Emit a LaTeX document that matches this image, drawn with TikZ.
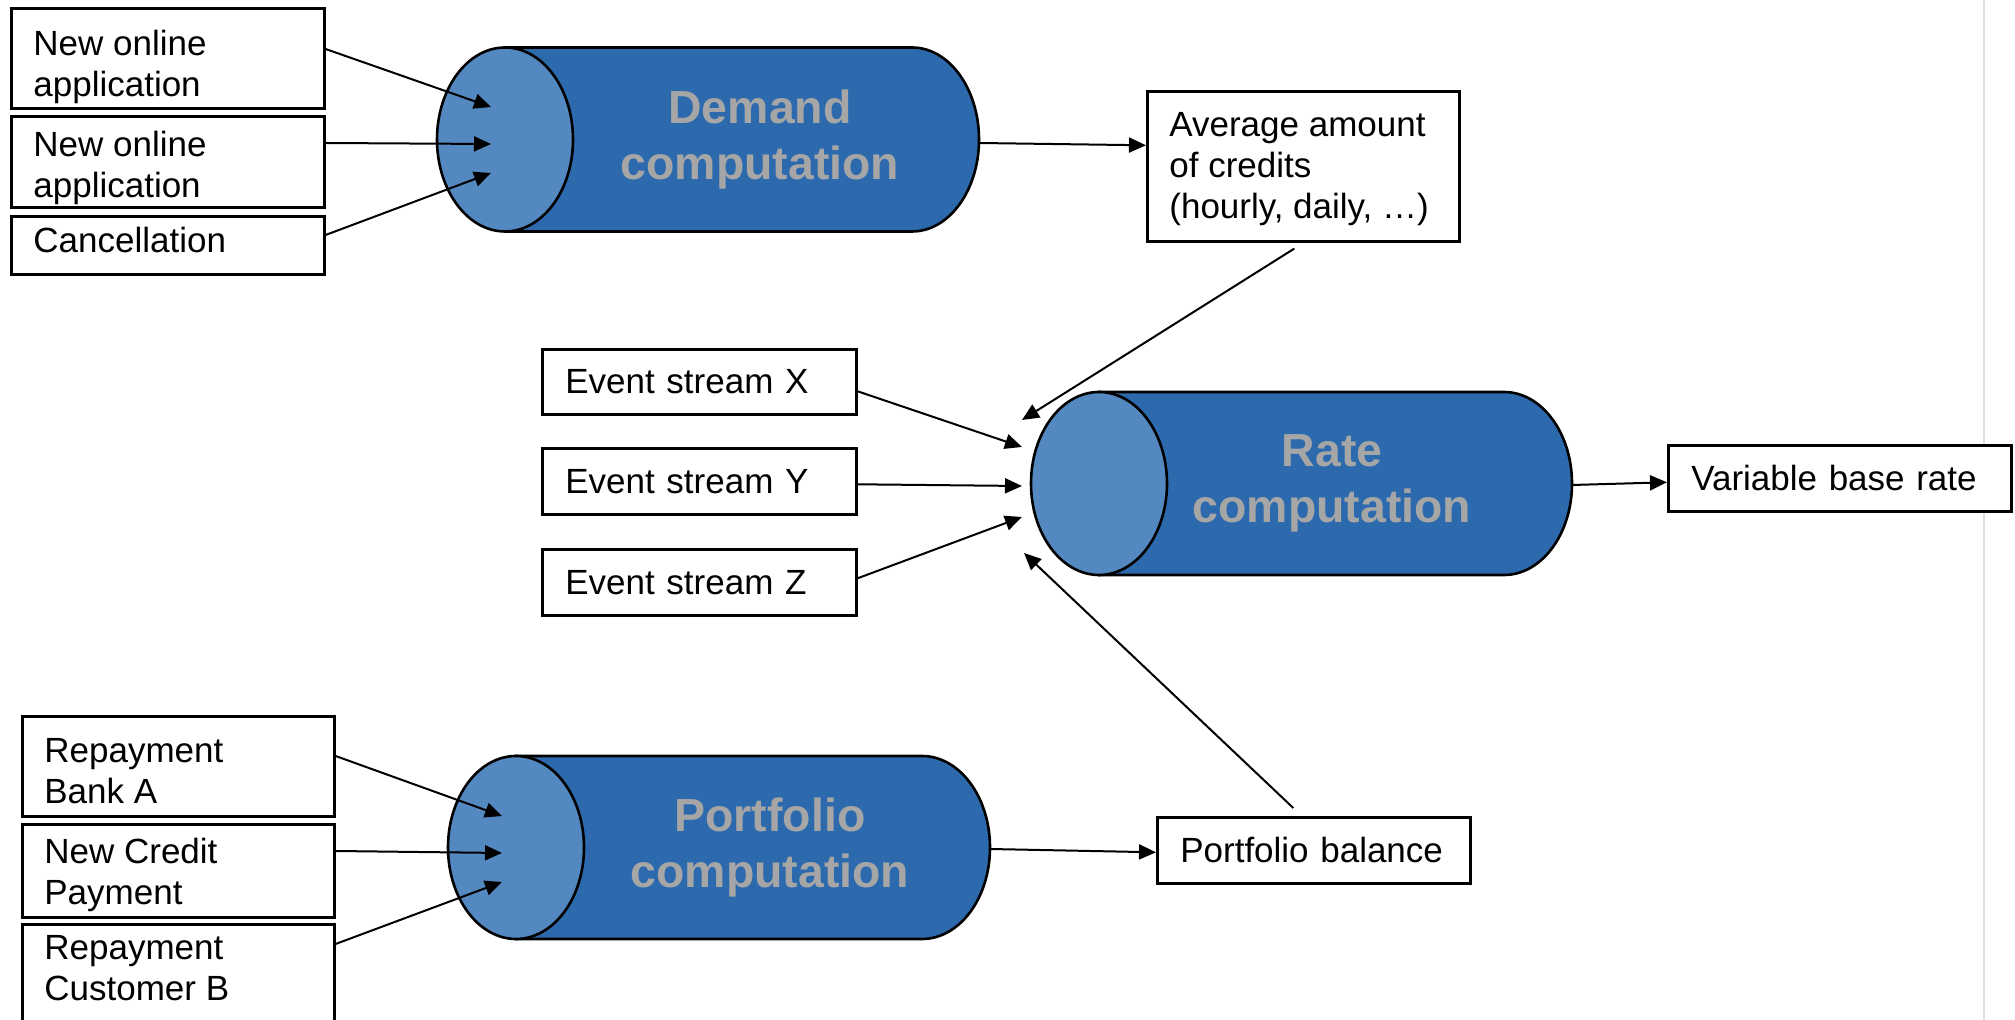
\documentclass[tikz,border=0pt]{standalone}
\usepackage{fontspec}
\setmainfont{Liberation Sans}
\usetikzlibrary{arrows.meta}
\definecolor{bodyblue}{RGB}{45,106,173}
\definecolor{capblue}{RGB}{84,136,192}
\definecolor{cyltext}{RGB}{166,166,166}
\definecolor{edgegray}{RGB}{222,222,222}
\newcommand{\bxfont}{\fontsize{17.5pt}{20.5pt}\selectfont}
\newcommand{\cyfont}{\fontsize{23.2pt}{28pt}\selectfont\bfseries}
\begin{document}
\begin{tikzpicture}[x=0.5pt,y=-0.5pt,
  box/.style={draw, line width=1.3pt, fill=white, rectangle, inner xsep=11.5pt, inner ysep=0pt, align=left, font=\bxfont, anchor=north west},
  txt/.style={inner xsep=11.5pt, inner ysep=0pt, align=left, font=\bxfont, anchor=west},
  conn/.style={line width=1pt, -{Triangle[length=8.5pt,width=7.5pt]}},
  cylbody/.style={fill=bodyblue, draw=black, line width=1.3pt},
  cylcap/.style={fill=capblue, draw=black, line width=1.3pt},
  cyltitle/.style={font=\cyfont, text=cyltext, align=center, inner sep=0pt}
]
\useasboundingbox (0,0) rectangle (2015,1020);
\fill[white] (0,0) rectangle (2015,1020);
\clip (0,0) rectangle (2015,1020);
\draw[edgegray, line width=1pt] (1984,0) -- (1984,1020);

% ---------- Demand ----------
\node[box, minimum width=156.5pt, minimum height=50pt] (b1) at (10,7) {};
\node[box, minimum width=156.5pt, minimum height=45.5pt] (b2) at (10,115) {};
\node[box, minimum width=156.5pt, minimum height=29pt] (b3) at (10,215) {};
\node[txt] (b1t) at ([yshift=-4.25pt]b1.west) {New online\\application};
\node[txt] (b2t) at ([yshift=-3pt]b2.west) {New online\\application};
\node[txt] (b3t) at ([yshift=2.5pt]b3.west) {Cancellation};

\filldraw[cylbody] (505,47.5) -- (912,47.5) arc[start angle=-90, end angle=90, x radius=67, y radius=92] -- (505,231.5) -- cycle;
\filldraw[cylcap] (505,139.5) ellipse[x radius=68, y radius=92];
\node[cyltitle] (dem) at (760,139.5) {Demand\\computation};

\coordinate (demIn1) at (491,107);
\coordinate (demIn2) at (491,144);
\coordinate (demIn3) at (491,173);
\coordinate (demOut) at (979,143);

\draw[conn] ([yshift=-21pt]b1.north east) -- (demIn1);
\draw[conn] ([yshift=-14pt]b2.north east) -- (demIn2);
\draw[conn] ([yshift=-10pt]b3.north east) -- (demIn3);

\node[box, minimum width=156pt, minimum height=75pt] (avg) at (1146,90) {};
\node[txt] (avgt) at ([yshift=-1.5pt]avg.west) {Average amount\\of credits\\(hourly, daily, …)};
\draw[conn] (demOut) -- ([yshift=10.5pt]avg.west);

% ---------- Rate ----------
\node[box, text width=134pt, minimum height=32.5pt] (ex) at (541,348) {Event stream X};
\node[box, text width=134pt, minimum height=33pt] (ey) at (541,447) {Event stream Y};
\node[box, text width=134pt, minimum height=33pt] (ez) at (541,548) {Event stream Z};

\filldraw[cylbody] (1099,392) -- (1504,392) arc[start angle=-90, end angle=90, x radius=68, y radius=91.5] -- (1099,575) -- cycle;
\filldraw[cylcap] (1099,483.5) ellipse[x radius=68, y radius=91.5];
\node[cyltitle] (rate) at (1332,483.5) {Rate\\computation};

\coordinate (rIn1) at (1022,420);
\coordinate (rIn2) at (1022,447);
\coordinate (rIn3) at (1022,486);
\coordinate (rIn4) at (1022,517);
\coordinate (rIn5) at (1024,553);
\coordinate (rOut) at (1572,485);

\draw[conn] ([xshift=-4.5pt,yshift=-3pt]avg.south) -- (rIn1);
\draw[conn] ([yshift=-4.75pt]ex.east) -- (rIn2);
\draw[conn] ([yshift=-1.5pt]ey.east) -- (rIn3);
\draw[conn] ([yshift=2pt]ez.east) -- (rIn4);

\node[box, text width=148.5pt, minimum height=33pt] (var) at (1667,444) {Variable base rate};
\draw[conn] (rOut) -- ([yshift=-2pt]var.west);

% ---------- Portfolio ----------
\node[box, minimum width=156pt, minimum height=50pt] (p1) at (21,715) {};
\node[box, minimum width=156pt, minimum height=46.5pt] (p2) at (21,823) {};
\node[box, minimum width=156pt, minimum height=70pt] (p3) at (21,923) {};
\node[txt] (p1t) at ([yshift=-2.5pt]p1.west) {Repayment\\Bank A};
\node[txt] (p2t) at ([yshift=-1.85pt]p2.west) {New Credit\\Payment};
\node[txt] (p3t) at (21,968.5) {Repayment\\Customer B};

\filldraw[cylbody] (516,756) -- (922,756) arc[start angle=-90, end angle=90, x radius=68, y radius=91.5] -- (516,939) -- cycle;
\filldraw[cylcap] (516,847.5) ellipse[x radius=68, y radius=91.5];
\node[cyltitle] (port) at (770,847.5) {Portfolio\\computation};

\coordinate (pIn1) at (502,816);
\coordinate (pIn2) at (502,853);
\coordinate (pIn3) at (502,882);
\coordinate (pOut) at (990,849);

\draw[conn] ([yshift=-20.5pt]p1.north east) -- (pIn1);
\draw[conn] ([yshift=-14pt]p2.north east) -- (pIn2);
\draw[conn] ([yshift=-10.5pt]p3.north east) -- (pIn3);

\node[box, text width=133.5pt, minimum height=33pt] (bal) at (1156,816) {Portfolio balance};
\draw[conn] (pOut) -- ([yshift=-1pt]bal.west);
\draw[conn] ([xshift=-10.25pt,yshift=4pt]bal.north) -- (rIn5);
\end{tikzpicture}
\end{document}
